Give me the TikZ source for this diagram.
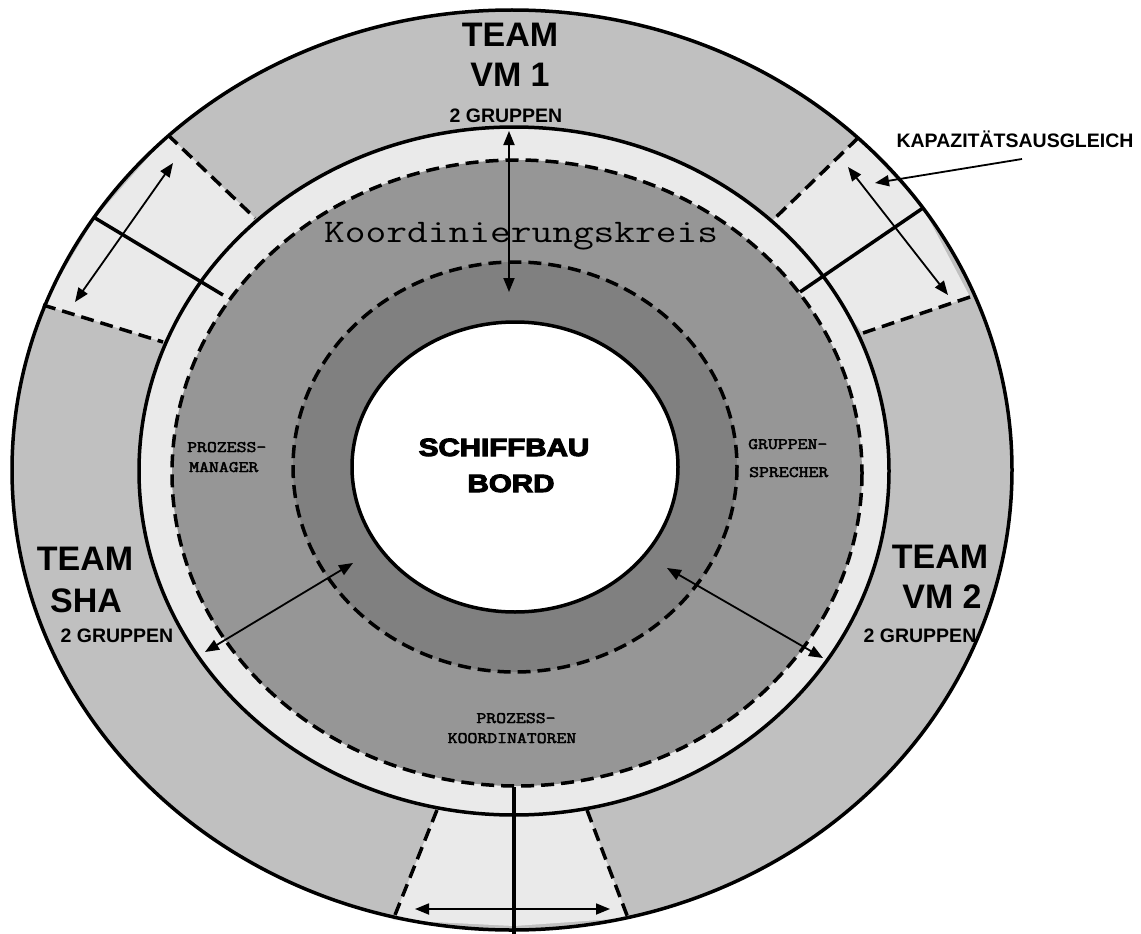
\documentclass[tikz,border=0pt]{standalone}
\usepackage{fontspec}
\setmainfont{Liberation Sans}
\newfontfamily\heavyfont{Liberation Sans}[BoldFeatures={FakeBold=4}]
\newfontfamily\rolefont{Latin Modern Mono}[FakeBold=2.5]
\usetikzlibrary{arrows.meta}

\definecolor{ringgray}{RGB}{192,192,192}
\definecolor{lightgray}{RGB}{234,234,234}
\definecolor{midgray}{RGB}{150,150,150}
\definecolor{darkgray}{RGB}{128,128,128}

\newcommand{\widemono}[1]{\scalebox{1.2}[1]{#1}}

\tikzset{
  teamlabel/.style={font=\fontsize{34}{40}\selectfont\bfseries, anchor=base, inner sep=0pt},
  grouplabel/.style={font=\fontsize{19.5}{23}\selectfont\bfseries, anchor=base, inner sep=0pt},
  rolelabel/.style={font=\rolefont\fontsize{16}{20}\selectfont, anchor=base west, inner sep=0pt},
  boardlabel/.style={font=\heavyfont\bfseries\fontsize{25}{30}\selectfont, anchor=base, inner sep=0pt},
  boundary/.style={line width=3.5pt, dash pattern=on 13pt off 7pt},
  divider/.style={line width=3.5pt},
  twoway/.style={line width=1.8pt, {Triangle[length=14pt,width=11pt]}-{Triangle[length=14pt,width=11pt]}},
  oneway/.style={line width=1.8pt, -{Triangle[length=14pt,width=11pt]}},
}

\begin{document}
\begin{tikzpicture}[x=1pt,y=-1pt]
\useasboundingbox (0,0) rectangle (1141,934);

% outer team ring
\fill[ringgray] (512,470) ellipse [x radius=500, y radius=460];

% capacity exchange sectors
\fill[lightgray] (168,135) -- (255,218) -- (163,342) -- (43,305) -- (95,218) -- cycle;
\fill[lightgray] (858,138) -- (923,208) -- (970,297) -- (863,333) -- (773,220) -- cycle;
\fill[lightgray] (393,920) -- (514,926) -- (628,918) -- (587,810) -- (437,810) -- cycle;

\draw[boundary] (168,135) -- (255,218);
\draw[boundary] (43,305) -- (163,342);
\draw[boundary] (858,138) -- (773,220);
\draw[boundary] (970,297) -- (863,333);
\draw[boundary] (437,810) -- (393,920);
\draw[boundary] (587,810) -- (628,918);

% inner light ring
\fill[lightgray] (514,471) ellipse [x radius=375, y radius=344];
\draw[line width=3.5pt] (514,471) ellipse [x radius=375, y radius=344];
\draw[line width=3.5pt] (512,470) ellipse [x radius=500, y radius=460];

% sector dividers
\draw[divider] (95,218) -- (223,295);
\draw[divider] (923,208) -- (800,292);
\draw[divider] (514,787) -- (514,940);

% coordination circle
\fill[midgray] (517,473) ellipse [x radius=345, y radius=313];
\draw[boundary] (517,473) ellipse [x radius=345, y radius=313];

% process coordinators ring
\fill[darkgray] (515,467) ellipse [x radius=222, y radius=205];
\draw[boundary] (515,467) ellipse [x radius=222, y radius=205];

% board core
\fill[white] (515,467) ellipse [x radius=163, y radius=145];
\draw[line width=3.5pt] (515,467) ellipse [x radius=163, y radius=145];

% labels
\node[teamlabel] (vmoneA) at (510,47) {TEAM};
\node[teamlabel] (vmoneB) at (510,87) {VM 1};
\node[grouplabel] (vmoneC) at (506,122) {2 GRUPPEN};

\node[teamlabel] (shaA) at (85,570) {TEAM};
\node[teamlabel] (shaB) at (86,612) {SHA};
\node[grouplabel] (shaC) at (117,642) {2 GRUPPEN};

\node[teamlabel] (vmtwoA) at (940,568) {TEAM};
\node[teamlabel] (vmtwoB) at (942,608) {VM 2};
\node[grouplabel] (vmtwoC) at (920,642) {2 GRUPPEN};

\node[grouplabel] (kap) at (1015,147) {KAPAZITÄTSAUSGLEICH};

\node[boardlabel] (boardA) at (504,456) {\scalebox{1.18}[1]{SCHIFFBAU}};
\node[boardlabel] (boardB) at (511,492) {\scalebox{1.18}[1]{BORD}};

\node[rolelabel] (pmA) at (187,452) {\widemono{PROZESS-}};
\node[rolelabel] (pmB) at (189,472) {\widemono{MANAGER}};
\node[rolelabel] (gsA) at (748,449) {\widemono{GRUPPEN-}};
\node[rolelabel] (gsB) at (749,477) {\widemono{SPRECHER}};
\node[rolelabel, anchor=base] (pkA) at (516,723) {\widemono{PROZESS-}};
\node[rolelabel, anchor=base] (pkB) at (512,743) {\widemono{KOORDINATOREN}};

\begin{scope}
  \clip (300,200) rectangle (715,260);
  \node[anchor=base west, inner sep=0pt, font=\ttfamily\fontsize{33}{40}\selectfont] (kk) at (324,242) {\scalebox{1.22}[1]{Koordinierungskreis}};
\end{scope}

% exchange arrows
\coordinate (topA) at (509,131);
\coordinate (topB) at (509,292);
\coordinate (leftA) at (205,652);
\coordinate (leftB) at (353,563);
\coordinate (rightA) at (667,568);
\coordinate (rightB) at (823,658);
\coordinate (ulA) at (173,163);
\coordinate (ulB) at (75,302);
\coordinate (urA) at (848,167);
\coordinate (urB) at (948,295);
\coordinate (botA) at (415,909);
\coordinate (botB) at (610,909);
\coordinate (kapTail) at (1022,159);
\coordinate (kapTip) at (875,183);

\draw[twoway] (topA) -- (topB);
\draw[twoway] (leftA) -- (leftB);
\draw[twoway] (rightA) -- (rightB);
\draw[twoway] (ulA) -- (ulB);
\draw[twoway] (urA) -- (urB);
\draw[twoway] (botA) -- (botB);
\draw[oneway] (kapTail) -- (kapTip);
\end{tikzpicture}
\end{document}
